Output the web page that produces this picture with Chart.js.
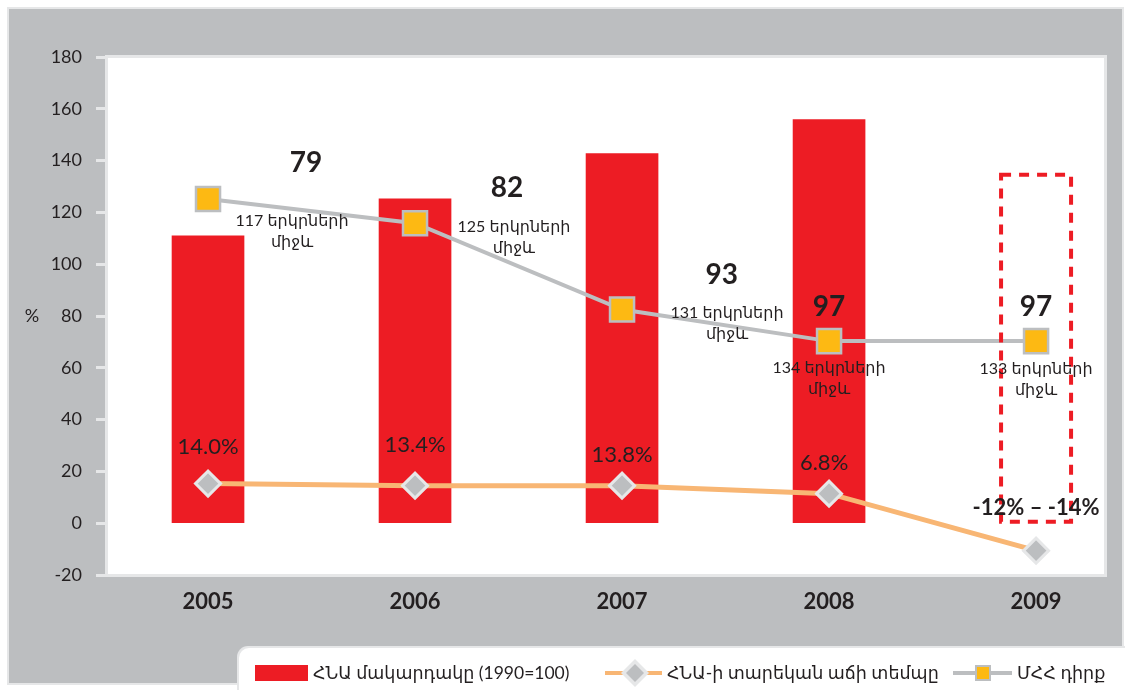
<!DOCTYPE html>
<html>
<head>
<meta charset="utf-8">
<script src="https://cdn.jsdelivr.net/npm/chart.js@4.4.1/dist/chart.umd.min.js"></script>
<style>
  html, body { margin: 0; padding: 0; background: #fff; }
  #wrap { width: 1125px; height: 690px; }
</style>
</head>
<body>
<div id="wrap"><canvas id="chart" width="1125" height="690"></canvas></div>
<script>
// data
const years = ['2005', '2006', '2007', '2008', '2009'];
const gdpLevel = [111, 125.2, 142.7, 155.8, null];
const gdpGrowth = [15.3, 14.5, 14.5, 11.4, -10.6];
const hdiRank = [125.2, 115.8, 82.5, 70.3, 70.3];
const seriesNames = ['ՀՆԱ մակարդակը (1990=100)', 'ՀՆԱ-ի տարեկան աճի տեմպը', 'ՄՀՀ դիրք'];

// text labels
const rankLabels = ['79', '82', '93', '97', '97'];
const countryLabels = ['117 երկրների', '125 երկրների', '131 երկրների', '134 երկրների', '133 երկրների'];
const betweenWord = 'միջև';
const growthLabels = ['14.0%', '13.4%', '13.8%', '6.8%', '-12% – -14%'];

// where the labels sit, in axis units [x index, y value]
const rankPos = [[0.473, 139.1], [1.444, 129.4], [2.482, 95.8], [3, 83.5], [4, 83.6]];
const countryPos = [[0.406, 116.8], [1.478, 114.4], [2.507, 81.1], [3, 59.9], [4, 59.5]];
const growthPos = [[0, 29.4], [1, 30.2], [2, 26.3], [2.976, 23.4], [4, 5.9]];

const RED = '#ed1c24';
const GREY = '#bcbec0';
const LIGHT = '#e6e7e8';
const YELLOW = '#fdb913';
const ORANGE = '#f8b674';
const INK = '#231f20';
const FONT = 'Lato, "DejaVu Sans", sans-serif';

const frame = {
    id: 'frame',
    beforeDraw(chart) {
        const { ctx, chartArea: a } = chart;
        ctx.save();
        ctx.fillStyle = '#ffffff';
        ctx.fillRect(0, 0, chart.width, chart.height);
        ctx.fillStyle = LIGHT;
        ctx.fillRect(7, 7, 1117, 678);
        ctx.fillStyle = GREY;
        ctx.fillRect(9, 9, 1113, 674);
        ctx.fillStyle = LIGHT;
        ctx.fillRect(a.left - 2, a.top - 2, a.width + 4, a.height + 4);
        ctx.fillStyle = '#ffffff';
        ctx.fillRect(a.left + 1, a.top + 1, a.width - 2, a.height - 2);
        ctx.fillStyle = INK;
        ctx.font = '18px ' + FONT;
        ctx.textAlign = 'center';
        ctx.textBaseline = 'middle';
        ctx.fillText('%', 32, (a.top + a.bottom) / 2);
        ctx.restore();
    }
};

const notes = {
    id: 'notes',
    afterDatasetsDraw(chart) {
        const { ctx } = chart;
        const xs = chart.scales.x, ys = chart.scales.y;
        const px = v => xs.getPixelForValue(v);
        const py = v => ys.getPixelForValue(v);
        ctx.save();

        // dashed forecast box round 2009
        ctx.strokeStyle = RED;
        ctx.lineWidth = 4;
        ctx.setLineDash([10, 8]);
        ctx.strokeRect(px(4) - 35, py(134.5), 70, py(0.6) - py(134.5));
        ctx.setLineDash([]);

        ctx.fillStyle = INK;
        ctx.textAlign = 'center';
        ctx.textBaseline = 'middle';

        ctx.font = 'bold 28px ' + FONT;
        rankLabels.forEach((t, i) => ctx.fillText(t, px(rankPos[i][0]), py(rankPos[i][1])));

        ctx.font = '16px ' + FONT;
        countryLabels.forEach((t, i) => {
            const x = px(countryPos[i][0]), y = py(countryPos[i][1]);
            ctx.fillText(t, x, y);
            ctx.fillText(betweenWord, x, y + 21);
        });

        growthLabels.forEach((t, i) => {
            ctx.font = (i === growthLabels.length - 1 ? 'bold ' : '') + '22px ' + FONT;
            ctx.fillText(t, px(growthPos[i][0]), py(growthPos[i][1]));
        });
        ctx.restore();
    }
};

const legendBox = {
    id: 'legendBox',
    afterDraw(chart) {
        const { ctx } = chart;
        ctx.save();
        ctx.fillStyle = LIGHT;
        ctx.beginPath();
        ctx.roundRect(237, 646, 900, 60, 11);
        ctx.fill();
        ctx.fillStyle = '#ffffff';
        ctx.beginPath();
        ctx.roundRect(239, 648, 900, 60, 10);
        ctx.fill();

        const cy = 673;
        ctx.font = '17.5px ' + FONT;
        ctx.textAlign = 'left';
        ctx.textBaseline = 'middle';

        // bars
        ctx.fillStyle = RED;
        ctx.fillRect(255, cy - 8, 53, 16);
        ctx.fillStyle = INK;
        ctx.fillText(seriesNames[0], 313, cy);

        // growth line
        ctx.strokeStyle = ORANGE;
        ctx.lineWidth = 4;
        ctx.beginPath();
        ctx.moveTo(605, cy);
        ctx.lineTo(662, cy);
        ctx.stroke();
        ctx.fillStyle = LIGHT;
        ctx.beginPath();
        ctx.moveTo(635, cy - 14); ctx.lineTo(649, cy); ctx.lineTo(635, cy + 14); ctx.lineTo(621, cy);
        ctx.closePath();
        ctx.fill();
        ctx.fillStyle = GREY;
        ctx.beginPath();
        ctx.moveTo(635, cy - 9); ctx.lineTo(644, cy); ctx.lineTo(635, cy + 9); ctx.lineTo(626, cy);
        ctx.closePath();
        ctx.fill();
        ctx.fillStyle = INK;
        ctx.fillText(seriesNames[1], 667, cy);

        // rank line
        ctx.strokeStyle = GREY;
        ctx.beginPath();
        ctx.moveTo(953, cy);
        ctx.lineTo(1012, cy);
        ctx.stroke();
        ctx.fillStyle = GREY;
        ctx.fillRect(975, cy - 8, 16, 16);
        ctx.fillStyle = YELLOW;
        ctx.fillRect(977, cy - 6, 12, 12);
        ctx.fillStyle = INK;
        ctx.fillText(seriesNames[2], 1017, cy);
        ctx.restore();
    }
};

const toPoints = arr => arr.map((v, i) => ({ x: i, y: v }));

new Chart(document.getElementById('chart'), {
    type: 'bar',
    data: {
        datasets: [
            {
                type: 'bar',
                label: seriesNames[0],
                data: toPoints(gdpLevel),
                backgroundColor: RED,
                barThickness: 72,
                order: 3
            },
            {
                type: 'line',
                label: seriesNames[1],
                data: toPoints(gdpGrowth),
                borderColor: ORANGE,
                borderWidth: 5,
                pointStyle: 'rectRot',
                pointRadius: 12.5,
                pointBackgroundColor: GREY,
                pointBorderColor: LIGHT,
                pointBorderWidth: 3,
                order: 1
            },
            {
                type: 'line',
                label: seriesNames[2],
                data: toPoints(hdiRank),
                borderColor: GREY,
                borderWidth: 4,
                pointStyle: 'rect',
                pointRadius: 17,
                pointBackgroundColor: YELLOW,
                pointBorderColor: GREY,
                pointBorderWidth: 2.5,
                order: 2
            }
        ]
    },
    options: {
        responsive: false,
        animation: false,
        layout: { padding: { top: 57, right: 20, bottom: 0, left: 0 } },
        plugins: {
            legend: { display: false },
            tooltip: { enabled: false }
        },
        scales: {
            x: {
                type: 'linear',
                offset: false,
                min: -0.488,
                max: 4.333,
                afterBuildTicks: s => { s.ticks = years.map((_, i) => ({ value: i })); },
                afterFit: s => { s.height = 115; },
                grid: { display: false },
                border: { display: false },
                ticks: {
                    autoSkip: false,
                    maxRotation: 0,
                    padding: 6,
                    color: INK,
                    font: { family: FONT, size: 22, weight: 'bold' },
                    callback: v => years[v]
                }
            },
            y: {
                min: -20,
                max: 180,
                afterFit: s => { s.width = 107; },
                grid: {
                    drawOnChartArea: false,
                    drawTicks: true,
                    tickLength: 11,
                    tickColor: LIGHT,
                    tickWidth: 3
                },
                border: { display: false },
                ticks: {
                    stepSize: 20,
                    padding: 14,
                    color: INK,
                    font: { family: FONT, size: 18 }
                }
            }
        }
    },
    plugins: [frame, notes, legendBox]
});
</script>
</body>
</html>
